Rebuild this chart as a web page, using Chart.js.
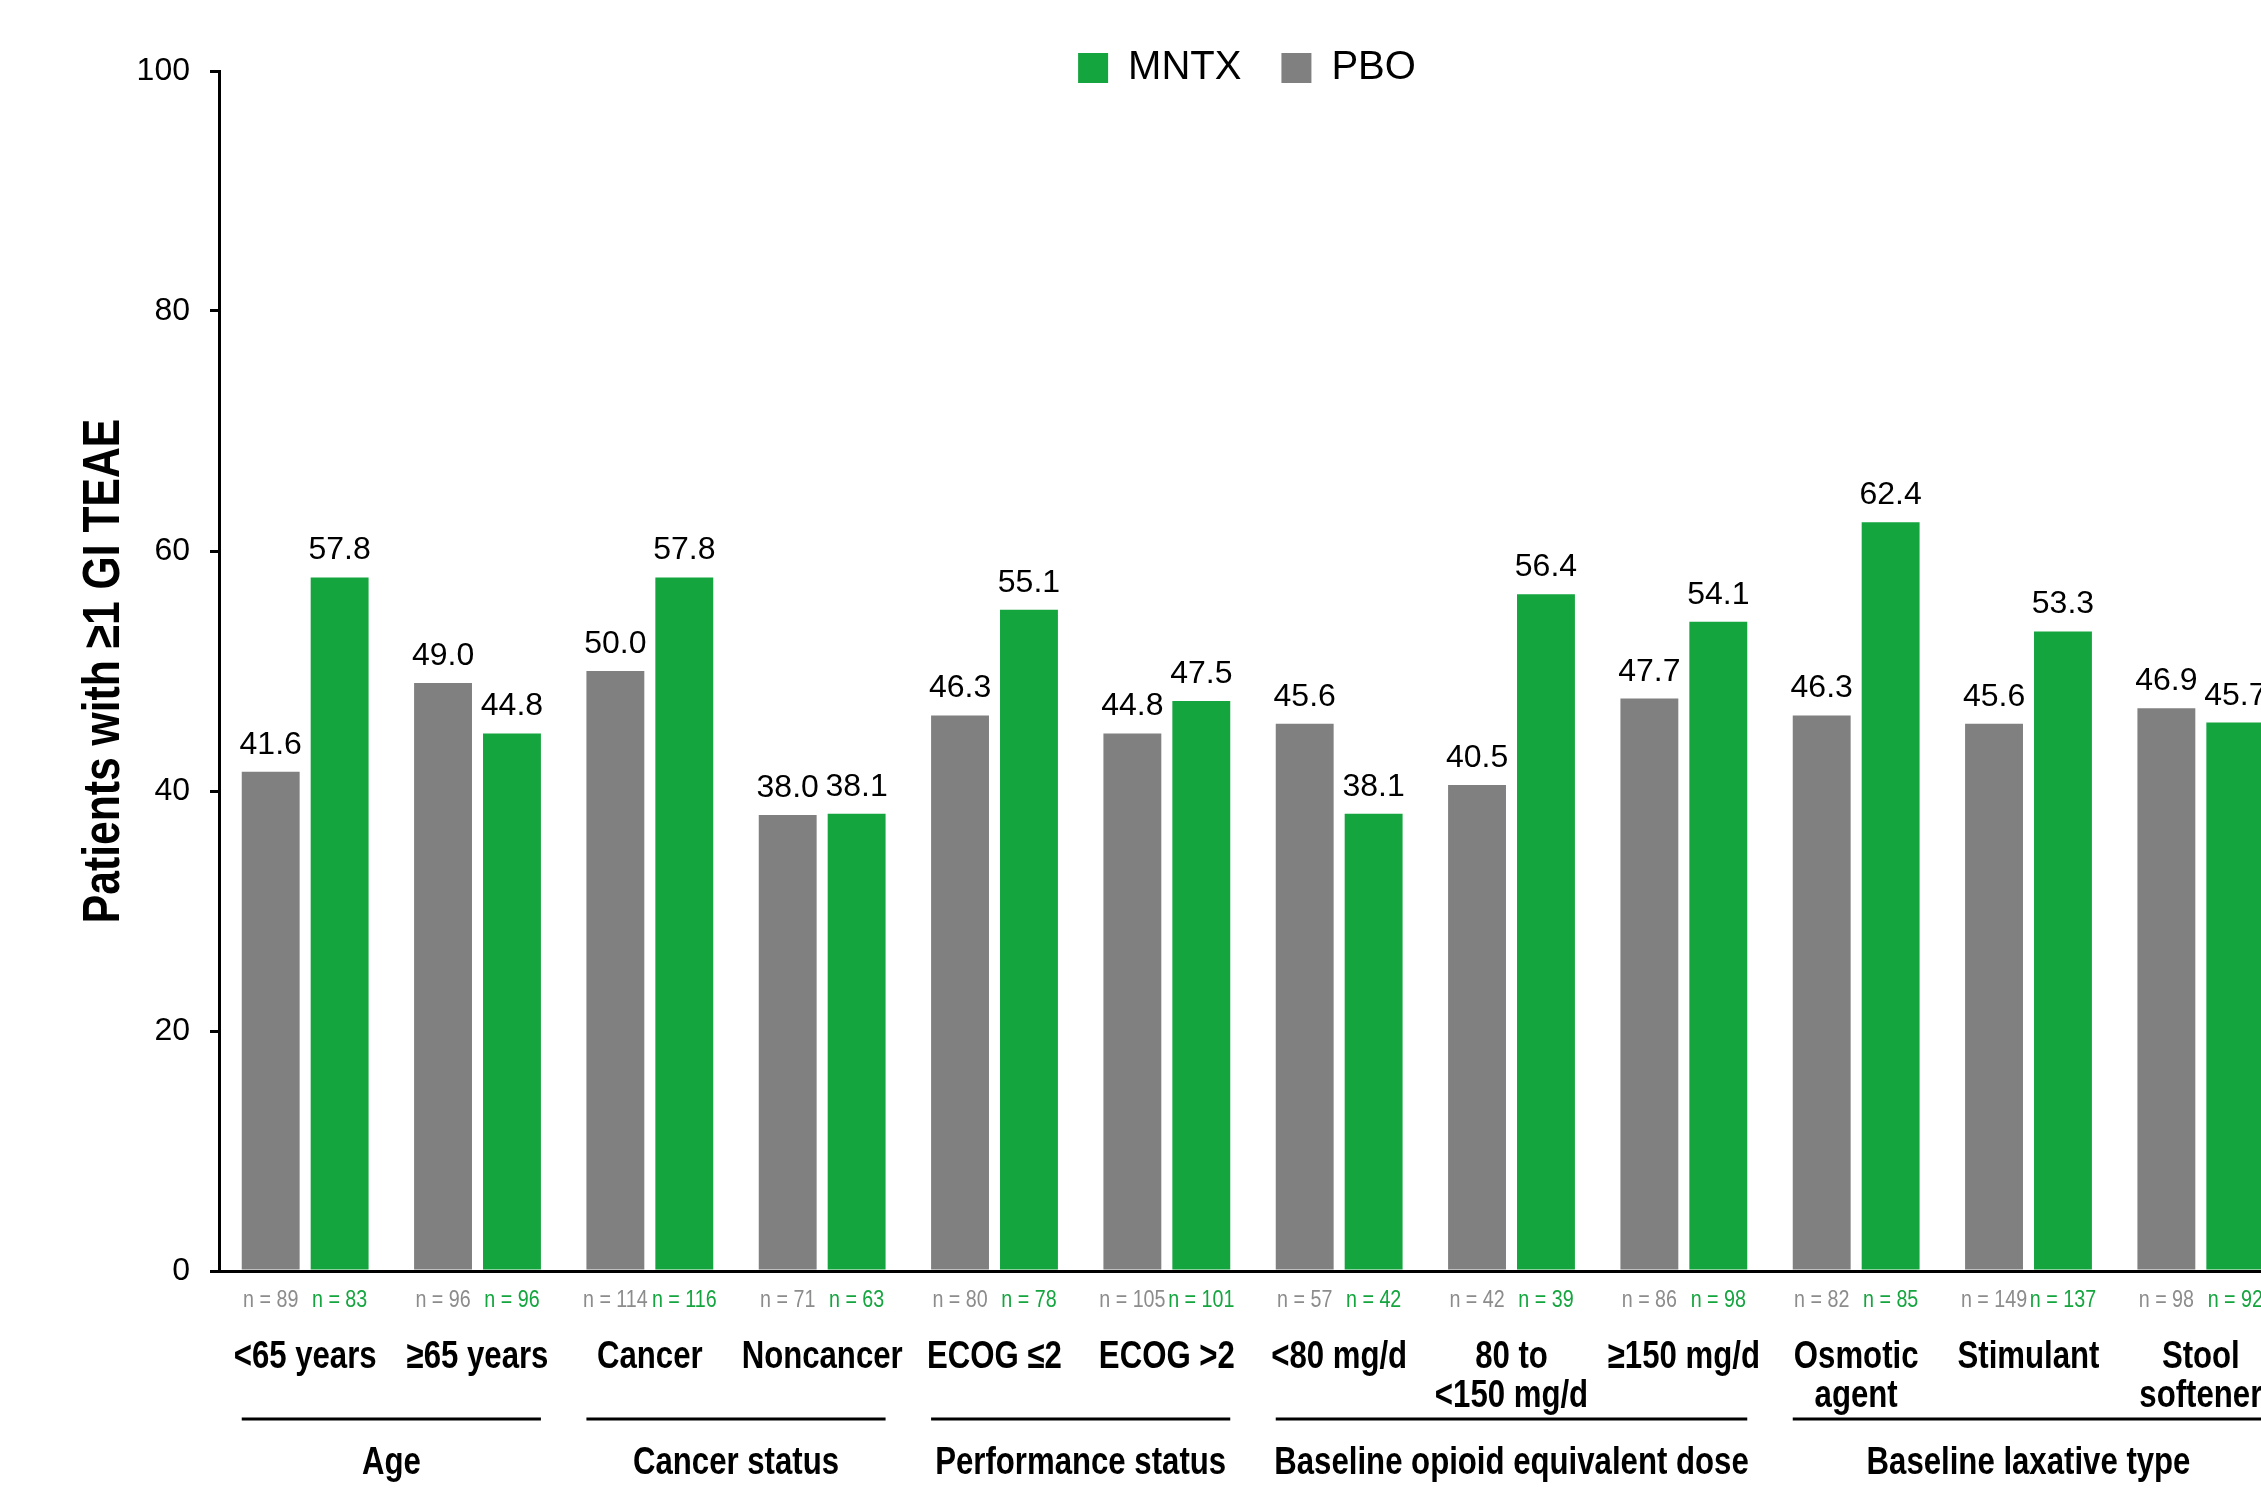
<!DOCTYPE html>
<html>
<head>
<meta charset="utf-8">
<script src="https://cdn.jsdelivr.net/npm/chart.js@4"></script>
<style>
  html, body { margin: 0; padding: 0; background: #fff; overflow: hidden; }
  #wrap { position: absolute; left: 0; top: 0; }
</style>
</head>
<body>
<div id="wrap"><canvas id="chart" width="2300" height="1490"></canvas></div>
<script>
const categories = [
  ["<65 years"], ["≥65 years"], ["Cancer"], ["Noncancer"], ["ECOG ≤2"], ["ECOG >2"],
  ["<80 mg/d"], ["80 to", "<150 mg/d"], ["≥150 mg/d"], ["Osmotic", "agent"], ["Stimulant"], ["Stool", "softener"]
];
const pboValues = [41.6, 49.0, 50.0, 38.0, 46.3, 44.8, 45.6, 40.5, 47.7, 46.3, 45.6, 46.9];
const mntxValues = [57.8, 44.8, 57.8, 38.1, 55.1, 47.5, 38.1, 56.4, 54.1, 62.4, 53.3, 45.7];
const pboN = [89, 96, 114, 71, 80, 105, 57, 42, 86, 82, 149, 98];
const mntxN = [83, 96, 116, 63, 78, 101, 42, 39, 98, 85, 137, 92];
const groupNames = ["Age", "Cancer status", "Performance status", "Baseline opioid equivalent dose", "Baseline laxative type"];
const groupFirst = [0, 2, 4, 6, 9];
const groupLast = [1, 3, 5, 8, 11];
const yTitle = "Patients with ≥1 GI TEAE";
const yMin = 0;
const yMax = 100;
const yStep = 20;

const GREEN = "#15a53f";
const GRAY = "#808080";
const SANS = '"Liberation Sans", Arial, sans-serif';

// no Arial Narrow here, so squeeze Liberation Sans sideways
const narrowText = (ctx, text, x, y, font, color, angle = 0) => {
  ctx.save();
  ctx.font = font;
  ctx.fillStyle = color;
  ctx.textAlign = "center";
  ctx.textBaseline = "middle";
  ctx.translate(x, y);
  ctx.rotate(angle);
  ctx.scale(0.82, 1);
  ctx.fillText(text, 0, 0);
  ctx.restore();
};

const extrasPlugin = {
  id: "extras",
  afterLayout(chart) {
    // let the legend spill down next to the top of the axis, like the original
    const lg = chart.legend;
    lg.bottom = lg.top + 90;
    lg.height = 90;
    lg.left -= 6;
    lg.right -= 6;
  },
  afterDatasetsDraw(chart) {
    const { ctx } = chart;
    ctx.save();
    ctx.font = `32px ${SANS}`;
    ctx.fillStyle = "#000";
    ctx.textAlign = "center";
    ctx.textBaseline = "alphabetic";
    chart.data.datasets.forEach((ds, di) => {
      chart.getDatasetMeta(di).data.forEach((bar, i) => {
        ctx.fillText(ds.data[i].toFixed(1), bar.x, bar.y - 18);
      });
    });
    ctx.restore();
  },
  afterDraw(chart) {
    const { ctx, chartArea, scales } = chart;
    const pboBars = chart.getDatasetMeta(0).data;
    const mntxBars = chart.getDatasetMeta(1).data;
    const base = chartArea.bottom;

    // y title
    narrowText(ctx, yTitle, 105, (chartArea.top + chartArea.bottom) / 2,
      `bold 52px ${SANS}`, "#000", -Math.PI / 2);

    // n under each bar
    pboBars.forEach((bar, i) => narrowText(ctx, `n = ${pboN[i]}`, bar.x, base + 29, `24px ${SANS}`, "#8c8c8c"));
    mntxBars.forEach((bar, i) => narrowText(ctx, `n = ${mntxN[i]}`, bar.x, base + 29, `24px ${SANS}`, GREEN));

    // category names
    categories.forEach((lines, i) => {
      const x = scales.x.getPixelForValue(i);
      lines.forEach((line, k) => narrowText(ctx, line, x, base + 87 + k * 39, `bold 38px ${SANS}`, "#000"));
    });

    // group brackets
    ctx.save();
    ctx.strokeStyle = "#000";
    ctx.lineWidth = 3;
    groupNames.forEach((name, g) => {
      const a = pboBars[groupFirst[g]];
      const b = mntxBars[groupLast[g]];
      const x1 = a.x - a.width / 2;
      const x2 = b.x + b.width / 2;
      ctx.beginPath();
      ctx.moveTo(x1, base + 148);
      ctx.lineTo(x2, base + 148);
      ctx.stroke();
      narrowText(ctx, name, (x1 + x2) / 2, base + 193, `bold 38px ${SANS}`, "#000");
    });
    ctx.restore();
  }
};

const ctx = document.getElementById("chart").getContext("2d");
new Chart(ctx, {
  type: "bar",
  data: {
    labels: categories.map((c) => c.join(" ")),
    datasets: [
      { label: "PBO", data: pboValues, backgroundColor: GRAY },
      { label: "MNTX", data: mntxValues, backgroundColor: GREEN }
    ]
  },
  options: {
    responsive: false,
    devicePixelRatio: 1,
    animation: false,
    datasets: { bar: { categoryPercentage: 0.8, barPercentage: 0.84 } },
    layout: { padding: { top: 8, right: 13, bottom: 0, left: 0 } },
    plugins: {
      legend: {
        position: "top",
        fullSize: false,
        reverse: true,
        maxHeight: 63,
        labels: {
          boxWidth: 30,
          boxHeight: 30,
          padding: 40,
          color: "#000",
          font: { family: SANS, size: 40 }
        }
      },
      tooltip: { enabled: false }
    },
    scales: {
      x: {
        grid: { display: false, drawTicks: false, tickLength: 0 },
        border: { display: true, color: "#000", width: 3 },
        ticks: { display: false },
        afterFit: (scale) => { scale.height = 219; }
      },
      y: {
        min: yMin,
        max: yMax,
        grid: { drawOnChartArea: false, drawTicks: true, tickLength: 9, color: "#000", lineWidth: 3 },
        border: { display: true, color: "#000", width: 3 },
        ticks: {
          stepSize: yStep,
          padding: 20,
          color: "#000",
          font: { family: SANS, size: 32 }
        },
        afterFit: (scale) => { scale.width = 219; }
      }
    }
  },
  plugins: [extrasPlugin]
});
</script>
</body>
</html>
